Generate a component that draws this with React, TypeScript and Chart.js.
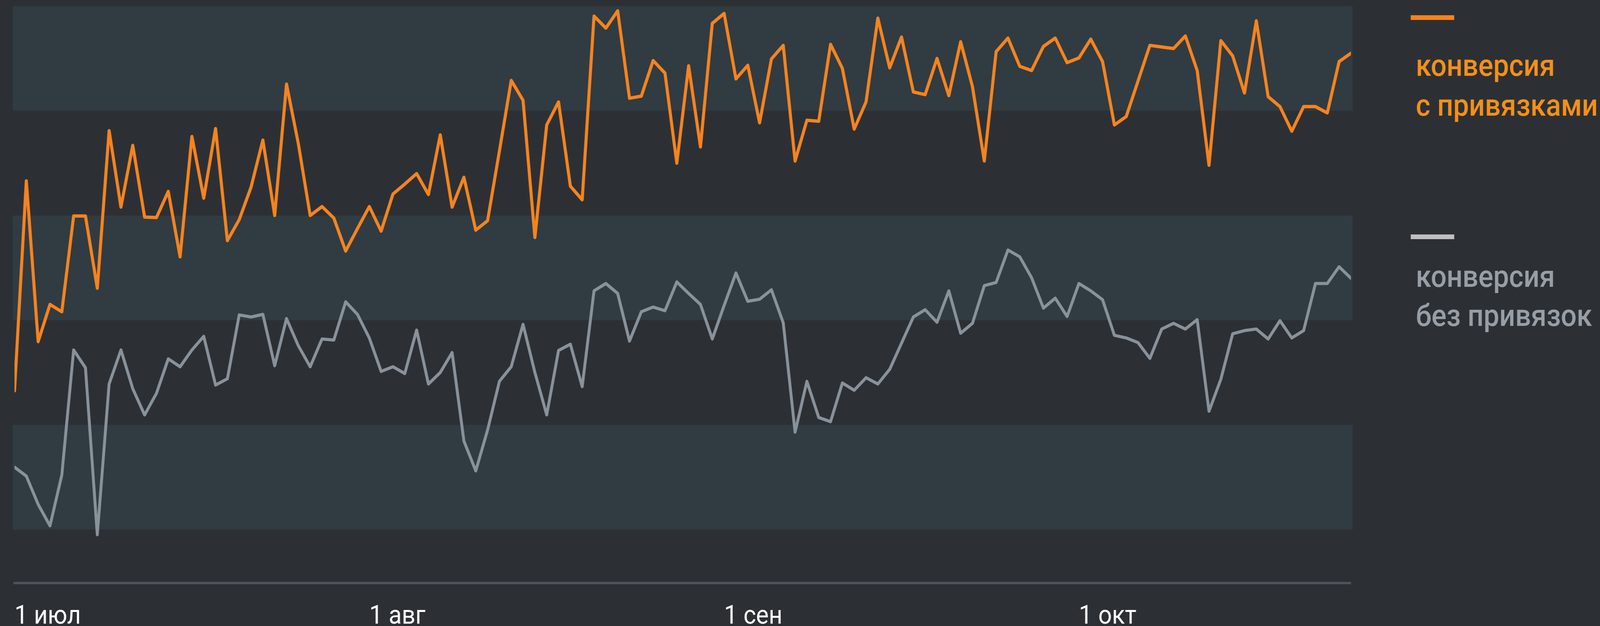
import React, { useEffect, useRef } from "react";
import { Chart, registerables } from "chart.js";

Chart.register(...registerables);

// conversion with bindings (orange)
const withBindings = [
  26.5, 66.6, 35.9, 43.0, 41.6, 59.9, 59.9, 46.1, 76.2, 61.6,
  73.4, 59.7, 59.6, 64.6, 52.1, 75.1, 63.3, 76.6, 55.2, 59.2,
  65.4, 74.4, 60.0, 85.1, 73.7, 60.0, 61.7, 59.5, 53.2, 57.5,
  61.7, 57.0, 64.1, 66.0, 68.0, 64.0, 75.4, 61.6, 67.3, 57.2,
  59.0, 72.3, 85.8, 82.0, 55.8, 77.3, 81.7, 65.6, 63.0, 98.1,
  95.8, 99.1, 82.4, 82.8, 89.6, 87.2, 70.0, 88.6, 73.1, 96.7,
  98.6, 86.1, 88.7, 77.7, 89.9, 92.5, 70.4, 78.2, 78.0, 92.7,
  88.1, 76.5, 81.7, 97.7, 88.2, 94.1, 83.6, 83.1, 90.0, 82.9,
  93.2, 84.6, 70.4, 91.3, 93.9, 88.5, 87.7, 92.3, 93.9, 89.2,
  90.1, 93.7, 89.4, 77.3, 78.9, 85.7, 92.5, 92.2, 91.9, 94.3,
  87.7, 69.6, 93.4, 90.5, 83.4, 97.2, 82.7, 80.8, 76.1, 80.8,
  80.8, 79.6, 89.4, 91.0,
];

// conversion without bindings (gray)
const withoutBindings = [
  11.9, 10.2, 4.8, 0.7, 10.4, 34.3, 30.9, -1.0, 27.8, 34.3,
  26.9, 21.9, 26.0, 32.6, 31.1, 34.3, 36.9, 27.6, 28.8, 41.0,
  40.6, 41.1, 31.3, 40.3, 35.1, 31.1, 36.4, 36.2, 43.5, 41.1,
  36.6, 30.2, 31.1, 29.8, 38.1, 27.8, 30.0, 33.8, 16.9, 11.2,
  19.0, 28.3, 31.1, 39.2, 30.0, 21.9, 34.2, 35.4, 27.3, 45.6,
  47.0, 45.1, 36.0, 41.6, 42.5, 41.8, 47.3, 45.1, 43.0, 36.4,
  42.8, 49.0, 43.6, 44.0, 45.8, 39.5, 18.6, 28.3, 21.4, 20.6,
  28.0, 26.6, 29.0, 27.8, 30.6, 35.6, 40.6, 42.0, 39.6, 45.6,
  37.5, 39.4, 46.6, 47.2, 53.4, 52.1, 48.1, 42.3, 44.2, 40.7,
  47.0, 45.6, 43.9, 37.1, 36.6, 35.7, 32.7, 38.3, 39.4, 38.3,
  40.1, 22.6, 28.7, 37.4, 38.0, 38.3, 36.4, 39.9, 36.6, 38.0,
  47.0, 47.0, 50.2, 48.0,
];

const tickPositions = [0, 30, 60, 90];
const tickLabels = ["1 июл", "1 авг", "1 сен", "1 окт"];
const bandStops = [0, 20, 40, 60, 80, 100];

const seriesNames = ["конверсия\nс привязками", "конверсия\nбез привязок"];

const W = 4415;
const H = 1602;
const BG = "#2c3035";
const BAND = "#313b42";
const ORANGE = "#f5841f";
const GRAY_LINE = "#89929a";

const legendStyle = [
  { swatch: ORANGE, text: "#f39019", swatchTop: 39, baselines: [194, 296] },
  { swatch: "#c0c0c0", text: "#979ea5", swatchTop: 600, baselines: [734, 834] },
];

const bandsPlugin = {
  id: "bands",
  beforeDatasetsDraw(chart: any) {
    const { ctx, chartArea, scales } = chart;
    const y = scales.y;
    ctx.save();
    for (let k = 0; k < bandStops.length - 1; k++) {
      const top = y.getPixelForValue(bandStops[k + 1]);
      const bot = y.getPixelForValue(bandStops[k]);
      ctx.fillStyle = k % 2 === 0 ? BAND : BG;
      ctx.fillRect(chartArea.left - 5, top, chartArea.right - chartArea.left + 10, bot - top);
    }
    ctx.restore();
  },
};

const legendPlugin = {
  id: "sideLegend",
  afterDraw(chart: any) {
    const { ctx, chartArea } = chart;
    const x0 = chartArea.right + 165;
    ctx.save();
    seriesNames.forEach((name, i) => {
      const st = legendStyle[i];
      ctx.fillStyle = st.swatch;
      ctx.fillRect(x0, st.swatchTop, 120, 12);
      ctx.fillStyle = st.text;
      ctx.font = "500 77px Roboto";
      ctx.textBaseline = "alphabetic";
      ctx.textAlign = "left";
      name.split("\n").forEach((line, j) => {
        ctx.fillText(line, x0 + 14, st.baselines[j]);
      });
    });
    ctx.restore();
  },
};

export default function App() {
  const ref = useRef<HTMLCanvasElement | null>(null);
  const wrap = useRef<HTMLDivElement | null>(null);

  useEffect(() => {
    document.body.style.margin = "0";
    document.body.style.background = BG;
    document.documentElement.style.overflow = "hidden";
    const canvas = ref.current;
    const box = wrap.current;
    if (!canvas || !box) return;
    const cssW = window.innerWidth;
    const cssH = window.innerHeight;
    box.style.width = `${cssW}px`;
    box.style.height = `${cssH}px`;
    canvas.style.width = `${cssW}px`;
    canvas.style.height = `${cssH}px`;

    const chart = new Chart(canvas, {
      type: "line",
      data: {
        datasets: [
          {
            label: seriesNames[0],
            data: withBindings.map((v, i) => ({ x: i, y: v })),
            borderColor: ORANGE,
            borderWidth: 8.5,
            pointRadius: 0,
            tension: 0,
            borderJoinStyle: "round",
            borderCapStyle: "round",
          },
          {
            label: seriesNames[1],
            data: withoutBindings.map((v, i) => ({ x: i, y: v })),
            borderColor: GRAY_LINE,
            borderWidth: 8,
            pointRadius: 0,
            tension: 0,
            borderJoinStyle: "round",
            borderCapStyle: "round",
          },
        ],
      },
      options: {
        animation: false,
        responsive: false,
        devicePixelRatio: 1,
        layout: { padding: { left: 28.7, right: W - 3727.7, top: 15.7, bottom: 0 } },
        plugins: { legend: { display: false }, tooltip: { enabled: false } },
        scales: {
          x: {
            type: "linear",
            min: 0,
            max: withBindings.length - 1,
            grid: { display: false },
            border: { display: true, color: "#4e535c", width: 6 },
            afterBuildTicks: (s: any) => {
              s.ticks = tickPositions.map((v) => ({ value: v }));
            },
            afterFit: (s: any) => {
              s.height = 110;
            },
            ticks: {
              color: "#ffffff",
              font: { family: "Roboto", size: 66 },
              align: "start",
              padding: 40,
              maxRotation: 0,
              autoSkip: false,
              callback: (v: any) => {
                const k = tickPositions.indexOf(Number(v));
                return k >= 0 ? tickLabels[k] : "";
              },
            },
          },
          y: {
            display: false,
            min: -10.23,
            max: 100,
          },
        },
      },
      plugins: [bandsPlugin, legendPlugin],
    } as any);
    return () => chart.destroy();
  }, []);

  return (
    <div ref={wrap} style={{ width: W, height: H, background: BG, overflow: "hidden", position: "relative" }}>
      <canvas ref={ref} width={W} height={H} style={{ display: "block" }} />
    </div>
  );
}
